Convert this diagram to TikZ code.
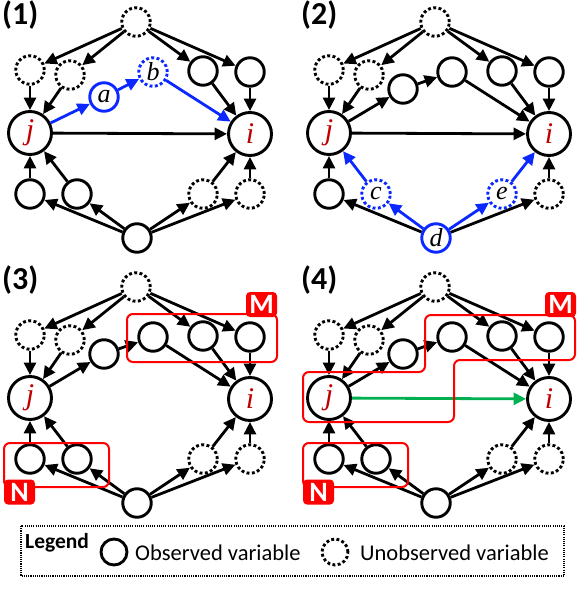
\documentclass[tikz,border=0pt]{standalone}
\usepackage{fontspec}
\setsansfont{Carlito}
\newfontfamily\varfont{Liberation Serif}
\usetikzlibrary{arrows.meta}

\definecolor{linkblue}{RGB}{10,40,255}
\definecolor{varred}{RGB}{192,0,0}
\definecolor{linkgreen}{RGB}{0,176,80}
\definecolor{boxred}{RGB}{255,0,0}

\begin{document}
\begin{tikzpicture}[
  x=1pt, y=-1pt,
  font=\sffamily,
  obs/.style={circle, draw=black, line width=2.9pt, minimum size=28.5pt, inner sep=0pt,
    font=\varfont\itshape\fontsize{26}{26}\selectfont},
  unobs/.style={obs, dash pattern=on 2.9pt off 2.4pt},
  pair/.style={obs, minimum size=43pt, text=varred, font=\varfont\itshape\fontsize{30}{30}\selectfont},
  link/.style={-{Triangle[length=12.5pt,width=12pt]}, line width=2.8pt},
  bluelink/.style={link, draw=linkblue},
  group/.style={draw=boxred, line width=2pt, rounded corners=6pt},
  tag/.style={fill=boxred, text=white, rounded corners=4pt, minimum width=31pt, minimum height=25pt,
    inner sep=0pt, font=\sffamily\bfseries\fontsize{28}{28}\selectfont},
  panel/.style={anchor=north west, inner sep=0pt, font=\sffamily\bfseries\fontsize{32}{32}\selectfont},
  key/.style={anchor=base west, inner sep=0pt, font=\sffamily\fontsize{22.5}{22.5}\selectfont}
]
\useasboundingbox (0,0) rectangle (578,612);

% frame shared by all four panels
\foreach \p/\dx/\dy in {1/0/0, 2/299/0, 3/0/265, 4/299/265}{
  \begin{scope}[shift={(\dx,\dy)}]
    \node[panel] (num\p) at (2,1) {(\p)};
    \node[unobs] (top\p) at (136,22) {};
    \node[unobs] (lo\p) at (30,70) {};
    \node[unobs] (li\p) at (70,75) {};
    \node[obs] (ri\p) at (203,71) {};
    \node[obs] (ro\p) at (250,72) {};
    \node[pair] (j\p) at (30,133) {j};
    \node[pair] (i\p) at (250,134) {i};
    \node[obs] (blo\p) at (30,194) {};
    \node[unobs] (bro\p) at (250,194) {};
  \end{scope}
  \draw[link] (top\p) -- (lo\p);
  \draw[link] (top\p) -- (li\p);
  \draw[link] (top\p) -- (ri\p);
  \draw[link] (top\p) -- (ro\p);
  \draw[link] (lo\p) -- (j\p);
  \draw[link] (li\p) -- (j\p);
  \draw[link] (ri\p) -- (i\p);
  \draw[link] (ro\p) -- (i\p);
  \draw[link] (blo\p) -- (j\p);
  \draw[link] (bro\p) -- (i\p);
}

% black lower part (panels 1, 3, 4)
\foreach \p/\dx/\dy in {1/0/0, 3/0/265, 4/299/265}{
  \begin{scope}[shift={(\dx,\dy)}]
    \node[obs] (bli\p) at (77,194) {};
    \node[unobs] (bri\p) at (203,194) {};
    \node[obs] (bot\p) at (137,238) {};
  \end{scope}
  \draw[link] (bli\p) -- (j\p);
  \draw[link] (bri\p) -- (i\p);
  \draw[link] (bot\p) -- (blo\p);
  \draw[link] (bot\p) -- (bli\p);
  \draw[link] (bot\p) -- (bri\p);
  \draw[link] (bot\p) -- (bro\p);
}

% black middle chain (panels 2, 3, 4)
\foreach \p/\dx/\dy in {2/299/0, 3/0/265, 4/299/265}{
  \begin{scope}[shift={(\dx,\dy)}]
    \node[obs] (ma\p) at (104,89) {};
    \node[obs] (mb\p) at (153,72) {};
  \end{scope}
  \draw[link] (j\p) -- (ma\p);
  \draw[link] (ma\p) -- (mb\p);
  \draw[link] (mb\p) -- (i\p);
}

% panel 1: blue path through a and b
\node[obs, draw=linkblue] (a) at (104,97) {a};
\node[unobs, draw=linkblue] (b) at (153,72) {b};
\draw[bluelink] (j1) -- (a);
\draw[bluelink] (a) -- (b);
\draw[bluelink] (b) -- (i1);
\draw[link] (j1) -- (i1);

% panel 2: blue fork below
\begin{scope}[shift={(299,0)}]
  \node[unobs, draw=linkblue] (c) at (77,194) {c};
  \node[unobs, draw=linkblue] (e) at (203,194) {e};
  \node[obs, draw=linkblue] (d) at (137,238) {d};
\end{scope}
\draw[bluelink] (c) -- (j2);
\draw[bluelink] (e) -- (i2);
\draw[bluelink] (d) -- (c);
\draw[bluelink] (d) -- (e);
\draw[link] (d) -- (blo2);
\draw[link] (d) -- (bro2);
\draw[link] (j2) -- (i2);

% panel 4: the added edge
\draw[link, draw=linkgreen] (j4) -- (i4);

% panels 3 and 4: sets N and M
\foreach \p/\dx/\dy in {3/0/265, 4/299/265}{
  \begin{scope}[shift={(\dx,\dy)}]
    \draw[group] (4,178) rectangle (109,222);
    \node[tag] (n\p) at (19.5,227) {N};
  \end{scope}
}
\begin{scope}[shift={(0,265)}]
  \draw[group] (127,49) rectangle (277,97);
  \node[tag] (m3) at (261.5,39.5) {M};
\end{scope}
\begin{scope}[shift={(299,265)}]
  \draw[group] (126,50) -- (276,50) -- (276,95) -- (155,95) -- (155,157) -- (4,157) -- (4,107) -- (126,107) -- cycle;
  \node[tag] (m4) at (261.5,39.5) {M};
\end{scope}

% legend
\draw[line width=1.1pt, dash pattern=on 1.1pt off 1.1pt] (21,526) rectangle (564,576);
\node[anchor=base west, inner sep=0pt, font=\sffamily\bfseries\fontsize{21.5}{21.5}\selectfont] (legend) at (25,548) {Legend};
\node[obs, minimum size=26pt] (keyobs) at (114,552) {};
\node[key] (keyobstext) at (135,560) {Observed variable};
\node[unobs, minimum size=26pt] (keyunobs) at (335,552) {};
\node[key] (keyunobstext) at (360,560) {Unobserved variable};

\end{tikzpicture}
\end{document}
